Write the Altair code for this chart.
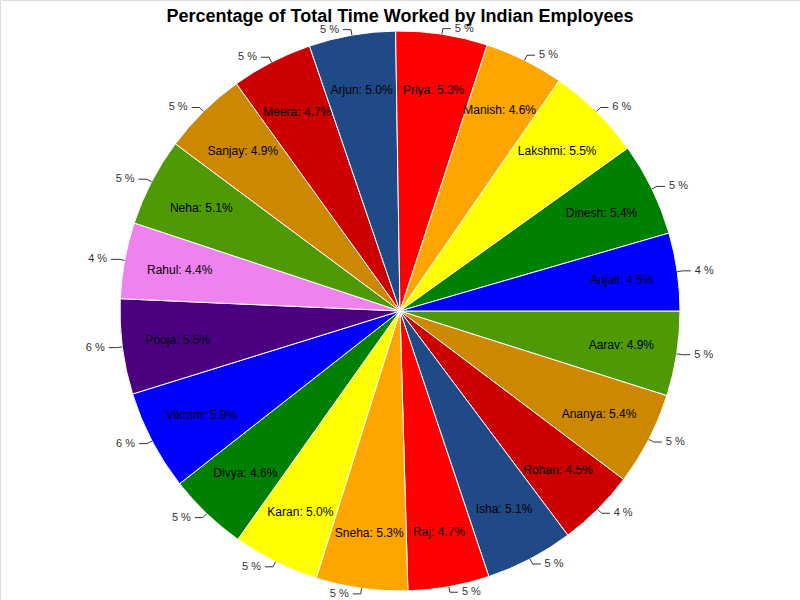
import altair as alt
import pandas as pd

names = ["Aarav", "Ananya", "Rohan", "Isha", "Raj", "Sneha", "Karan", "Divya", "Vikram", "Pooja",
         "Rahul", "Neha", "Sanjay", "Meera", "Arjun", "Priya", "Manish", "Lakshmi", "Dinesh", "Anjali"]
percents = [4.9, 5.4, 4.5, 5.1, 4.7, 5.3, 5.0, 4.6, 5.8, 5.5,
            4.4, 5.1, 4.9, 4.7, 5.0, 5.3, 4.6, 5.5, 5.4, 4.5]
outer_labels = ["5 %", "5 %", "4 %", "5 %", "5 %", "5 %", "5 %", "5 %", "6 %", "6 %",
                "4 %", "5 %", "5 %", "5 %", "5 %", "5 %", "5 %", "6 %", "5 %", "4 %"]
colors = ["#4E9A06", "#CC8800", "#CC0000", "#204A87", "#FF0000", "#FFA500", "#FFFF00", "#008000", "#0000FF", "#4B0082",
          "#EE82EE", "#4E9A06", "#CC8800", "#CC0000", "#204A87", "#FF0000", "#FFA500", "#FFFF00", "#008000", "#0000FF"]
title = "Percentage of Total Time Worked by Indian Employees"

df = pd.DataFrame({
    "idx": list(range(len(names))),
    "name": names,
    "pct": percents,
    "outer": outer_labels,
})
df["inner"] = [f"{n}: {p:.1f}%" for n, p in zip(names, percents)]

CX, CY, R = 400, 311, 280

base = alt.Chart(df).transform_window(
    cum="sum(pct)", sort=[alt.SortField("idx")], frame=[None, 0]
).transform_joinaggregate(
    total="sum(pct)"
).transform_calculate(
    a0="2*PI*(datum.cum - datum.pct)/datum.total",
    a1="2*PI*datum.cum/datum.total",
).transform_calculate(
    mid="(datum.a0 + datum.a1)/2",
    theta="datum.a0 + PI/2",
    theta2="datum.a1 + PI/2",
).transform_calculate(
    side="cos(datum.mid) >= 0 ? 1 : -1",
    ix=f"{CX} + {R*0.8}*cos(datum.mid)",
    iy=f"{CY} + {R*0.8}*sin(datum.mid)",
    ex=f"{CX} + {R}*cos(datum.mid)",
    ey=f"{CY} + {R}*sin(datum.mid)",
    bx=f"{CX} + {R*1.02}*cos(datum.mid)",
    by=f"{CY} + {R*1.02}*sin(datum.mid)",
).transform_calculate(
    hx="datum.bx + 8*datum.side",
    tx="datum.bx + 12*datum.side",
)

arcs = base.mark_arc(radius=R, stroke="white", strokeWidth=1).encode(
    x=alt.value(CX),
    y=alt.value(CY),
    theta=alt.Theta("theta:Q", scale=None),
    theta2=alt.Theta2("theta2:Q"),
    color=alt.Color("name:N", scale=alt.Scale(domain=names, range=colors), legend=None),
)

inner = base.mark_text(font="Liberation Sans", fontSize=12, color="#000000").encode(
    x=alt.X("ix:Q", scale=None, axis=None),
    y=alt.Y("iy:Q", scale=None, axis=None),
    text="inner:N",
)

radial = base.mark_rule(color="#333333", strokeWidth=1).encode(
    x=alt.X("ex:Q", scale=None, axis=None),
    y=alt.Y("ey:Q", scale=None, axis=None),
    x2="bx:Q",
    y2="by:Q",
)

horiz = base.mark_rule(color="#333333", strokeWidth=1).encode(
    x=alt.X("bx:Q", scale=None, axis=None),
    y=alt.Y("by:Q", scale=None, axis=None),
    x2="hx:Q",
    y2="by:Q",
)

outer_right = base.transform_filter("datum.side > 0").mark_text(
    font="Liberation Sans", fontSize=11, color="#333333", align="left", baseline="middle"
).encode(
    x=alt.X("tx:Q", scale=None, axis=None),
    y=alt.Y("by:Q", scale=None, axis=None),
    text="outer:N",
)

outer_left = base.transform_filter("datum.side < 0").mark_text(
    font="Liberation Sans", fontSize=11, color="#333333", align="right", baseline="middle"
).encode(
    x=alt.X("tx:Q", scale=None, axis=None),
    y=alt.Y("by:Q", scale=None, axis=None),
    text="outer:N",
)

title_mark = alt.Chart(pd.DataFrame({"t": [title]})).mark_text(
    font="Liberation Sans", fontSize=18, fontWeight="bold", color="#000000", align="center", baseline="middle"
).encode(
    x=alt.value(400),
    y=alt.value(17),
    text="t:N",
)

chart = alt.layer(arcs, radial, horiz, inner, outer_right, outer_left, title_mark).properties(
    width=800, height=600, padding=0, autosize=alt.AutoSizeParams(type="none")
).configure_view(stroke=None).configure(background="white")

chart.save("out.html", embed_options={"renderer": "svg", "actions": False})
